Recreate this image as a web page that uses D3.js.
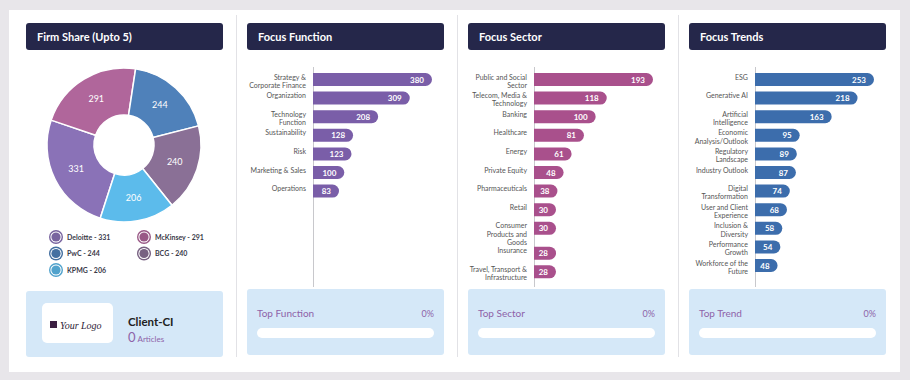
<!DOCTYPE html>
<html>
<head>
<meta charset="utf-8">
<script src="https://cdn.jsdelivr.net/npm/d3@7"></script>
<style>
	body { margin: 0; background: #e8e6ea; }
	svg { display: block; font-family: Lato, "Noto Sans", sans-serif; }
</style>
</head>
<body>
<div id="dashboard"></div>
<script>
	//
	// Datasets
	//
	let firmNames = ['Deloitte', 'McKinsey', 'PwC', 'BCG', 'KPMG'];
	let firmValues = [331, 291, 244, 240, 206];
	let firmColors = ['#8a72b7', '#b0669b', '#4f81ba', '#8a7096', '#5cbbeb'];

	let functionLabels = ['Strategy &\nCorporate Finance', 'Organization', 'Technology\nFunction', 'Sustainability', 'Risk', 'Marketing & Sales', 'Operations'];
	let functionValues = [380, 309, 208, 128, 123, 100, 83];

	let sectorLabels = ['Public and Social\nSector', 'Telecom, Media &\nTechnology', 'Banking', 'Healthcare', 'Energy', 'Private Equity', 'Pharmaceuticals', 'Retail', 'Consumer\nProducts and\nGoods', 'Insurance', 'Travel, Transport &\nInfrastructure'];
	let sectorValues = [193, 118, 100, 81, 61, 48, 38, 30, 30, 28, 28];

	let trendLabels = ['ESG', 'Generative AI', 'Artificial\nIntelligence', 'Economic\nAnalysis/Outlook', 'Regulatory\nLandscape', 'Industry Outlook', 'Digital\nTransformation', 'User and Client\nExperience', 'Inclusion &\nDiversity', 'Performance\nGrowth', 'Workforce of the\nFuture'];
	let trendValues = [253, 218, 163, 95, 89, 87, 74, 68, 58, 54, 48];

	let panelTitles = ['Firm Share (Upto 5)', 'Focus Function', 'Focus Sector', 'Focus Trends'];
	let topTitles = ['Top Function', 'Top Sector', 'Top Trend'];

	let HEADER_COLOR = '#25274a';
	let BOX_COLOR = '#d5e8f8';
	let ACCENT = '#8e63a8';

	var svg_width = 910,
	svg_height = 380;

	var svg = d3.select('#dashboard').append('svg')
		.attr('width', svg_width)
		.attr('height', svg_height);

	// frame
	svg.append('rect').attr('width', svg_width).attr('height', svg_height).attr('fill', '#e8e6ea');
	svg.append('rect').attr('x', 9).attr('y', 10).attr('width', 891).attr('height', 362).attr('fill', '#fff');

	var colX = [26, 247, 468, 689];
	var colW = 197;

	// separators
	[236, 457, 678].forEach(function(x) {
		svg.append('line')
			.attr('x1', x + 0.5).attr('x2', x + 0.5)
			.attr('y1', 15).attr('y2', 357)
			.attr('stroke', '#e2e2e6');
	});

	// headers
	panelTitles.forEach(function(t, i) {
		svg.append('rect')
			.attr('x', colX[i]).attr('y', 23)
			.attr('width', colW).attr('height', 27)
			.attr('rx', 3)
			.attr('fill', HEADER_COLOR);
		svg.append('text')
			.attr('x', colX[i] + 11).attr('y', 40.5)
			.attr('fill', '#fff')
			.attr('font-size', 11)
			.attr('font-weight', 'bold')
			.text(t);
	});

	//
	// Donut
	//
	var pie = d3.pie()
		.sort(null)
		.startAngle(-162 * Math.PI / 180)
		.endAngle(198 * Math.PI / 180);

	var arc = d3.arc().innerRadius(30).outerRadius(77);

	var donut = svg.append('g').attr('transform', 'translate(124,145)');

	donut.selectAll('path')
		.data(pie(firmValues))
		.enter()
		.append('path')
		.attr('d', arc)
		.attr('fill', function(d, i) { return firmColors[i]; })
		.attr('stroke', '#fff')
		.attr('stroke-width', 1.5);

	donut.selectAll('text')
		.data(pie(firmValues))
		.enter()
		.append('text')
		.attr('transform', function(d) { return 'translate(' + arc.centroid(d) + ')'; })
		.attr('text-anchor', 'middle')
		.attr('dy', '0.35em')
		.attr('fill', '#fff')
		.attr('font-size', 9)
		.text(function(d) { return d.value; });

	// legend
	var legend = svg.append('g');
	firmNames.forEach(function(name, i) {
		var cx = 56 + (i % 2) * 88,
			cy = 237 + Math.floor(i / 2) * 16.5;
		var c = d3.color(firmColors[i]).darker(0.4);
		legend.append('circle').attr('cx', cx).attr('cy', cy).attr('r', 7).attr('fill', c);
		legend.append('circle').attr('cx', cx).attr('cy', cy).attr('r', 5.6).attr('fill', '#fff');
		legend.append('circle').attr('cx', cx).attr('cy', cy).attr('r', 4.6).attr('fill', c);
		legend.append('text')
			.attr('x', cx + 11).attr('y', cy + 2.5)
			.attr('font-size', 7)
			.attr('font-weight', 'bold')
			.attr('fill', '#3a3a4a')
			.text(name + ' - ' + firmValues[i]);
	});

	// client box
	svg.append('rect').attr('x', 26).attr('y', 291).attr('width', colW).attr('height', 66).attr('rx', 3).attr('fill', BOX_COLOR);
	svg.append('rect').attr('x', 42).attr('y', 303).attr('width', 71).attr('height', 40).attr('rx', 5).attr('fill', '#fff');
	svg.append('rect').attr('x', 50).attr('y', 321).attr('width', 7).attr('height', 7).attr('fill', '#3b1f42');
	svg.append('text')
		.attr('x', 60).attr('y', 328.5)
		.attr('font-family', '"Liberation Serif", "DejaVu Serif", serif')
		.attr('font-style', 'italic')
		.attr('font-size', 10)
		.attr('fill', '#2c1c35')
		.text('Your Logo');
	svg.append('text')
		.attr('x', 128).attr('y', 326)
		.attr('font-size', 11.5)
		.attr('font-weight', 'bold')
		.attr('fill', '#222')
		.text('Client-CI');
	var art = svg.append('text').attr('x', 128).attr('y', 342).attr('fill', ACCENT);
	art.append('tspan').attr('font-size', 13).text('0');
	art.append('tspan').attr('font-size', 8).attr('dx', 2).text('Articles');

	//
	// Bar charts
	//
	function draw_bars(ci, labels, values, color) {
		var x0 = colX[ci] + 66;
		var g = svg.append('g');

		var x = d3.scaleLinear()
			.domain([0, d3.max(values)])
			.range([0, 119]);
		var minW = 22;

		// row heights depend on label lines
		var rowH = labels.map(function(l) { return Math.max(18.6, l.split('\n').length * 8.3); });
		var tops = [];
		var acc = 70.2;
		rowH.forEach(function(h) { tops.push(acc); acc += h; });
		var y = d3.scaleOrdinal().domain(labels).range(tops.map(function(t) { return t + 9.3; }));

		g.append('line')
			.attr('x1', x0 + 0.5).attr('x2', x0 + 0.5)
			.attr('y1', 67).attr('y2', 287)
			.attr('stroke', '#c8c8cc');

		var bh = 13;
		g.selectAll('path.bar')
			.data(values)
			.enter()
			.append('path')
			.attr('class', 'bar')
			.attr('fill', color)
			.attr('d', function(d, i) {
				var w = Math.max(x(d), minW), cy = y(labels[i]), r = bh / 2;
				var p = d3.path();
				p.moveTo(x0, cy - r);
				p.lineTo(x0 + w - r, cy - r);
				p.arc(x0 + w - r, cy, r, -Math.PI / 2, Math.PI / 2);
				p.lineTo(x0, cy + r);
				p.closePath();
				return p.toString();
			});

		g.selectAll('text.val')
			.data(values)
			.enter()
			.append('text')
			.attr('class', 'val')
			.attr('x', function(d) { return x0 + Math.max(x(d), minW) - 8; })
			.attr('y', function(d, i) { return y(labels[i]) + 3; })
			.attr('text-anchor', 'end')
			.attr('fill', '#fff')
			.attr('font-size', 8)
			.attr('font-weight', 'bold')
			.text(function(d) { return d; });

		labels.forEach(function(l, i) {
			var t = g.append('text')
				.attr('text-anchor', 'end')
				.attr('font-size', 7)
				.attr('fill', '#555');
			l.split('\n').forEach(function(line, j) {
				t.append('tspan')
					.attr('x', x0 - 7)
					.attr('y', y(l) + j * 8.3)
					.text(line);
			});
		});

		// bottom box
		var bx = colX[ci];
		svg.append('rect').attr('x', bx).attr('y', 289).attr('width', colW).attr('height', 66).attr('rx', 3).attr('fill', BOX_COLOR);
		svg.append('text')
			.attr('x', bx + 10).attr('y', 316.5)
			.attr('font-size', 10)
			.attr('fill', ACCENT)
			.text(topTitles[ci - 1]);
		svg.append('text')
			.attr('x', bx + 187).attr('y', 316.5)
			.attr('text-anchor', 'end')
			.attr('font-size', 9)
			.attr('fill', ACCENT)
			.text('0%');
		svg.append('rect')
			.attr('x', bx + 10).attr('y', 328)
			.attr('width', 177).attr('height', 10)
			.attr('rx', 5)
			.attr('fill', '#fff');
	}

	draw_bars(1, functionLabels, functionValues, '#7a5ea8');
	draw_bars(2, sectorLabels, sectorValues, '#a9508c');
	draw_bars(3, trendLabels, trendValues, '#3c6dac');
</script>
</body>
</html>
